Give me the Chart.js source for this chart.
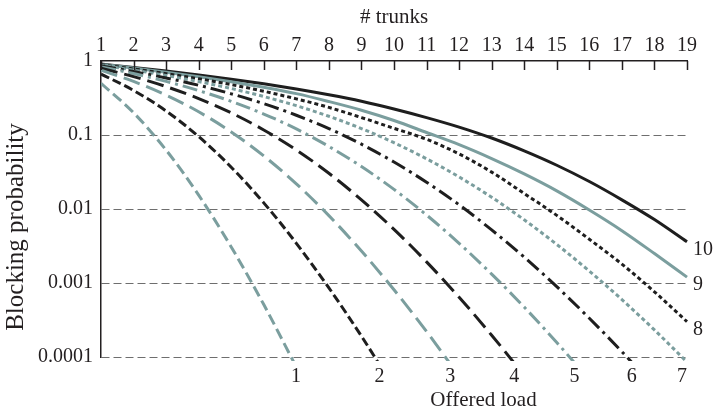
<!DOCTYPE html>
<html lang="en">
<head>
  <meta charset="UTF-8">
  <title>Blocking probability</title>
  <script src="https://cdn.jsdelivr.net/npm/chart.js"></script>
  <style>
    body {
      margin: 0;
      background-color: white;
    }
    #wrap {
      width: 714px;
      height: 411px;
    }
  </style>
</head>
<body>
<div id="wrap">
  <canvas id="erlangChart"></canvas>
</div>
<script>
  // number of trunks (top axis)
  const trunks = [1, 2, 3, 4, 5, 6, 7, 8, 9, 10, 11, 12, 13, 14, 15, 16, 17, 18, 19];
  // offered load of each curve
  const loads = ['1', '2', '3', '4', '5', '6', '7', '8', '9', '10'];
  const yTicks = [1, 0.1, 0.01, 0.001, 0.0001];
  const yTickLabels = ['1', '0.1', '0.01', '0.001', '0.0001'];

  // blocking probability per trunk count, one list per offered load
  const block1 = [0.5, 0.2, 0.0625, 0.0154, 0.00307, 0.000511, 0.000073];
  const block2 = [0.667, 0.4, 0.211, 0.0952, 0.0367, 0.0121, 0.00344, 0.000859, 0.000191, 0.0000382];
  const block3 = [0.75, 0.529, 0.346, 0.206, 0.110, 0.0522, 0.0219, 0.00813, 0.0027, 0.00081, 0.000221, 0.0000552];
  const block4 = [0.8, 0.615, 0.451, 0.311, 0.199, 0.117, 0.0627, 0.0304, 0.0133, 0.00531, 0.00193, 0.000642, 0.000197, 0.0000564];
  const block5 = [0.833, 0.676, 0.53, 0.398, 0.285, 0.192, 0.121, 0.07, 0.0375, 0.0184, 0.00829, 0.00344, 0.00132, 0.000472, 0.000157, 0.0000491];
  const block6 = [0.857, 0.72, 0.59, 0.47, 0.36, 0.265, 0.185, 0.122, 0.0751, 0.0431, 0.023, 0.0114, 0.00522, 0.00223, 0.000892, 0.000334, 0.000118, 0.0000393];
  const block7 = [0.875, 0.754, 0.638, 0.527, 0.425, 0.331, 0.249, 0.179, 0.122, 0.0787, 0.0477, 0.0271, 0.0144, 0.00714, 0.00332, 0.00145, 0.000597, 0.000232, 0.0000855];
  const block8 = [0.889, 0.78, 0.675, 0.575, 0.479, 0.39, 0.308, 0.236, 0.172, 0.123, 0.0875, 0.0555, 0.0315, 0.0162, 0.0082, 0.0039, 0.0018, 0.00076, 0.0003];
  const block9 = [0.9, 0.802, 0.706, 0.614, 0.525, 0.441, 0.362, 0.283, 0.216, 0.157, 0.108, 0.074, 0.048, 0.0298, 0.0176, 0.0097, 0.0051, 0.0025, 0.0012];
  const block10 = [0.909, 0.82, 0.732, 0.647, 0.568, 0.492, 0.419, 0.35, 0.286, 0.225, 0.172, 0.128, 0.091, 0.061, 0.039, 0.0235, 0.0133, 0.0072, 0.0036];

  const allBlocks = [block1, block2, block3, block4, block5, block6, block7, block8, block9, block10];

  const teal = '#7b9e9e';
  const dark = '#1e1e1e';
  const inkColor = '#231f20';
  const serif = "'Liberation Serif', 'DejaVu Serif', serif";

  const lineColors = [teal, dark, teal, dark, teal, dark, teal, dark, teal, dark];
  const lineDashes = [
    [11, 5], [9, 4],
    [17, 7], [17, 7],
    [15, 5, 3, 5], [15, 5, 3, 5],
    [4, 3], [4, 3],
    [], []
  ];

  const datasets = allBlocks.map((arr, k) => ({
    label: loads[k],
    data: arr.map((v, i) => ({ x: trunks[i], y: v })),
    borderColor: lineColors[k],
    borderDash: lineDashes[k],
    borderWidth: 3,
    pointRadius: 0,
    fill: false,
    cubicInterpolationMode: 'monotone',
    clip: { left: 0, top: 0, right: 4, bottom: 4 }
  }));

  // inward ticks on top axis, curve labels and the lower title
  const decorPlugin = {
    id: 'decor',
    afterDatasetsDraw(chart) {
      const ctx = chart.ctx;
      const area = chart.chartArea;
      const xs = chart.scales.x;
      const ys = chart.scales.y;

      ctx.save();
      ctx.strokeStyle = inkColor;
      ctx.lineWidth = 1.5;
      trunks.forEach(t => {
        const px = Math.round(xs.getPixelForValue(t)) + 0.5;
        ctx.beginPath();
        ctx.moveTo(px, area.top);
        ctx.lineTo(px, area.top + 9);
        ctx.stroke();
      });

      ctx.fillStyle = inkColor;
      ctx.font = '20px ' + serif;
      const minY = 0.0001;
      allBlocks.forEach((arr, k) => {
        const last = arr[arr.length - 1];
        if (last < minY) {
          // where the curve leaves the bottom of the plot
          let xv = trunks[arr.length - 1];
          for (let i = 0; i < arr.length - 1; i++) {
            if (arr[i] >= minY && arr[i + 1] < minY) {
              const f = (Math.log10(arr[i]) - Math.log10(minY)) / (Math.log10(arr[i]) - Math.log10(arr[i + 1]));
              xv = trunks[i] + f;
            }
          }
          let px = xs.getPixelForValue(xv) + 5;
          if (px > area.right - 5) px = area.right - 5;
          ctx.textAlign = 'center';
          ctx.textBaseline = 'middle';
          ctx.fillText(loads[k], px, area.bottom + 20);
        } else {
          const px = xs.getPixelForValue(trunks[arr.length - 1]);
          const py = ys.getPixelForValue(last);
          ctx.textAlign = 'left';
          ctx.textBaseline = 'middle';
          ctx.fillText(loads[k], px + 6, py + 8);
        }
      });

      ctx.font = '21px ' + serif;
      ctx.textAlign = 'center';
      ctx.textBaseline = 'middle';
      ctx.fillText('Offered load', xs.getPixelForValue(12.75), area.bottom + 43);

      ctx.font = '25px ' + serif;
      ctx.translate(16, (area.top + area.bottom) / 2 + 18);
      ctx.rotate(-Math.PI / 2);
      ctx.fillText('Blocking probability', 0, 0);
      ctx.restore();
    }
  };

  const ctx = document.getElementById('erlangChart').getContext('2d');
  new Chart(ctx, {
    type: 'line',
    data: { datasets: datasets },
    options: {
      responsive: true,
      maintainAspectRatio: false,
      animation: false,
      layout: {
        padding: { left: 0, right: 27, top: 0, bottom: 54 }
      },
      plugins: {
        legend: { display: false },
        tooltip: { enabled: false }
      },
      scales: {
        x: {
          type: 'linear',
          position: 'top',
          min: 1,
          max: 19,
          afterBuildTicks: scale => {
            scale.ticks = trunks.map(t => ({ value: t }));
          },
          afterFit: scale => {
            scale.height = 61;
          },
          ticks: {
            color: inkColor,
            font: { family: serif, size: 20 },
            padding: 3,
            maxRotation: 0,
            autoSkip: false
          },
          grid: {
            drawOnChartArea: false,
            drawTicks: false
          },
          border: {
            display: true,
            color: inkColor,
            width: 1.5
          },
          title: {
            display: true,
            text: '# trunks',
            color: inkColor,
            font: { family: serif, size: 21 },
            padding: { top: 5, bottom: 0 }
          }
        },
        y: {
          type: 'logarithmic',
          min: 0.0001,
          max: 1,
          afterBuildTicks: scale => {
            scale.ticks = yTicks.map(v => ({ value: v }));
          },
          afterFit: scale => {
            scale.width = 101;
          },
          ticks: {
            color: inkColor,
            font: { family: serif, size: 20 },
            padding: 8,
            callback: (value) => {
              const i = yTicks.indexOf(value);
              return i >= 0 ? yTickLabels[i] : '';
            }
          },
          grid: {
            drawTicks: false,
            color: c => c.tick && c.tick.value === 1 ? 'rgba(0,0,0,0)' : '#6e6e6e',
            lineWidth: 1
          },
          border: {
            display: true,
            color: inkColor,
            width: 1.5,
            dash: [8, 4]
          }
        }
      }
    },
    plugins: [decorPlugin]
  });
</script>
</body>
</html>
